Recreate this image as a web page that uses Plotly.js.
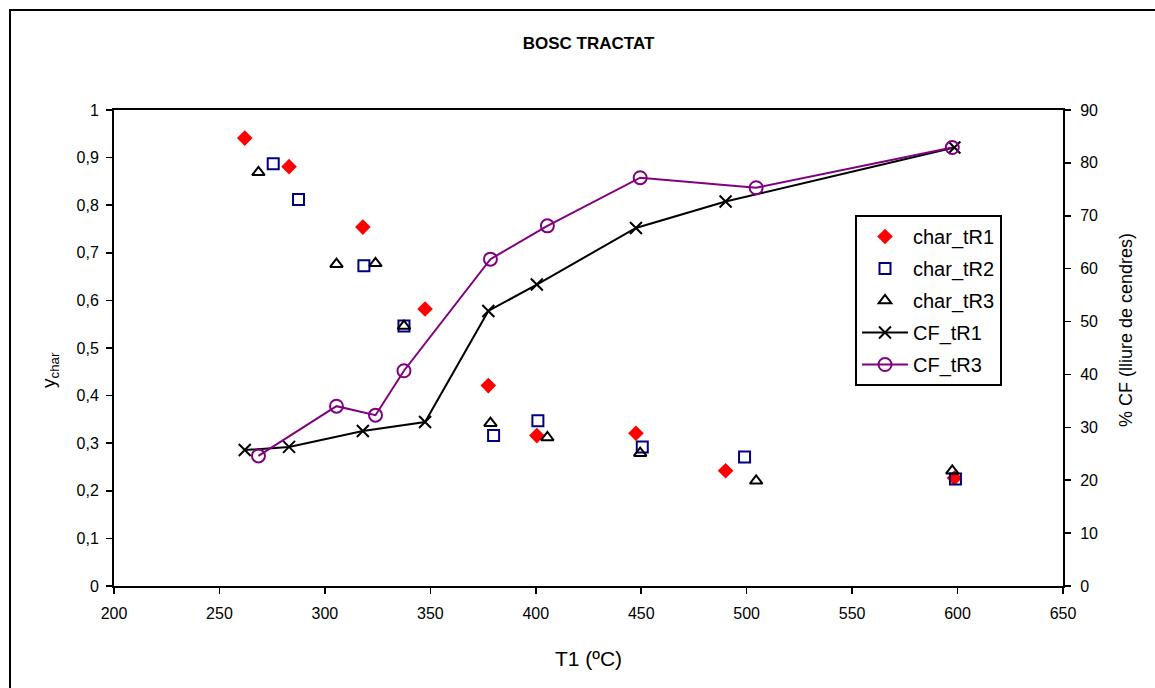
<!DOCTYPE html>
<html>
<head>
<meta charset="utf-8">
<script src="https://cdn.plot.ly/plotly-3.0.1.min.js"></script>
<style>
  html, body { margin: 0; padding: 0; background: #ffffff; }
  #chart { width: 1155px; height: 688px; }
</style>
</head>
<body>
<div id="chart"></div>
<script>
// Temperatures T1 (ºC) for each run
const tempR1 = [262, 283, 318, 347.5, 377.5, 400.5, 447.5, 490, 598.5];
const tempR2 = [275.5, 287.5, 318.5, 337.5, 380, 401, 450.5, 499, 599];
const tempR3 = [268.5, 305.5, 324, 337.5, 378.5, 405.5, 449.5, 504.5, 597.5];

// Char yield (left axis)
const charR1 = [0.941, 0.881, 0.754, 0.582, 0.421, 0.316, 0.321, 0.242, 0.227];
const charR2 = [0.887, 0.812, 0.673, 0.546, 0.316, 0.347, 0.292, 0.271, 0.225];
const charR3 = [0.869, 0.676, 0.678, 0.546, 0.342, 0.312, 0.279, 0.221, 0.242];

// Fixed carbon, % ash-free (right axis)
const cfR1 = [25.7, 26.3, 29.3, 31.0, 52.0, 57.0, 67.7, 72.7, 82.9];
const cfR3 = [24.6, 34.0, 32.3, 40.7, 61.8, 68.1, 77.2, 75.3, 82.9];

const seriesNames = ['char_tR1', 'char_tR2', 'char_tR3', 'CF_tR1', 'CF_tR3'];

const FONT = 'Liberation Sans, Arial, sans-serif';

// plot area in pixels
const PL = 114, PR = 1063, PT = 110, PB = 586;
const PW = PR - PL, PH = PB - PT;
const px = v => (v - PL) / PW;
const py = v => (PB - v) / PH;

const traces = [
  {
    x: tempR1, y: charR1, name: seriesNames[0], legendgroup: 'g1', type: 'scatter', mode: 'markers',
    marker: { symbol: 'diamond', size: 12, color: '#ff0000', line: { width: 0 } }
  },
  {
    x: tempR2, y: charR2, name: seriesNames[1], legendgroup: 'g2', type: 'scatter', mode: 'markers',
    marker: { symbol: 'square-open', size: 11, color: '#000080', line: { width: 2, color: '#000080' } }
  },
  {
    x: tempR3, y: charR3, name: seriesNames[2], legendgroup: 'g3', type: 'scatter', mode: 'markers',
    marker: { symbol: 'triangle-up-open', size: 11, color: '#000000', line: { width: 2, color: '#000000' } }
  },
  {
    x: tempR1, y: cfR1, name: seriesNames[3], legendgroup: 'g4', type: 'scatter', mode: 'lines+markers', yaxis: 'y2',
    line: { color: '#000000', width: 2 },
    marker: { symbol: 'x-thin-open', size: 12, color: '#000000', line: { width: 2, color: '#000000' } }
  },
  {
    x: tempR3, y: cfR3, name: seriesNames[4], legendgroup: 'g5', type: 'scatter', mode: 'lines+markers', yaxis: 'y2',
    line: { color: '#800080', width: 2 },
    marker: { symbol: 'circle-open', size: 13, color: '#800080', line: { width: 2, color: '#800080' } }
  }
];

const axisCommon = {
  showgrid: false, zeroline: false,
  showline: true, linecolor: '#000000', linewidth: 2,
  ticks: 'outside', ticklen: 6, tickwidth: 1.5, tickcolor: '#000000',
  tickfont: { family: FONT, size: 16 }
};

const layout = {
  width: 1155,
  height: 688,
  paper_bgcolor: '#ffffff',
  plot_bgcolor: '#ffffff',
  separators: ',.',
  font: { family: FONT, color: '#000000', size: 16 },
  margin: { l: PL, r: 1155 - PR, t: PT, b: 688 - PB, pad: 0 },
  showlegend: true,
  title: {
    text: '<b>BOSC TRACTAT</b>',
    font: { family: FONT, size: 17, color: '#000000' },
    x: 0.5, xref: 'paper', xanchor: 'center',
    y: 1 - 43 / 688, yanchor: 'middle'
  },
  xaxis: Object.assign({}, axisCommon, {
    range: [200, 650],
    dtick: 50, tick0: 200,
    mirror: true,
    ticklabelstandoff: 6,
    title: { text: 'T1 (ºC)', font: { family: FONT, size: 21 }, standoff: 30 }
  }),
  yaxis: Object.assign({}, axisCommon, {
    range: [0, 1],
    dtick: 0.1, tick0: 0,
    ticklabelstandoff: 4
  }),
  yaxis2: Object.assign({}, axisCommon, {
    range: [0, 90],
    dtick: 10, tick0: 0,
    overlaying: 'y', side: 'right',
    ticklabelstandoff: 6
  }),
  legend: {
    x: px(855), xanchor: 'left',
    y: py(215), yanchor: 'top',
    bgcolor: '#ffffff',
    bordercolor: '#000000', borderwidth: 2,
    font: { family: FONT, size: 20 },
    tracegroupgap: 3,
    itemwidth: 46
  },
  annotations: [
    {
      text: 'y<sub>char</sub>', textangle: -90,
      xref: 'paper', yref: 'paper', x: px(50), y: py(370),
      xanchor: 'center', yanchor: 'middle', showarrow: false,
      font: { family: FONT, size: 19, color: '#000000' }
    },
    {
      text: '% CF (lliure de cendres)', textangle: -90,
      xref: 'paper', yref: 'paper', x: px(1126), y: py(330),
      xanchor: 'center', yanchor: 'middle', showarrow: false,
      font: { family: FONT, size: 18, color: '#000000' }
    }
  ],
  shapes: [
    {
      type: 'rect', xref: 'paper', yref: 'paper',
      x0: px(10), x1: px(1170),
      y0: py(700), y1: py(10),
      line: { color: '#000000', width: 2 },
      fillcolor: 'rgba(0,0,0,0)',
      layer: 'below'
    }
  ]
};

Plotly.newPlot('chart', traces, layout, { displayModeBar: false, staticPlot: true });
</script>
</body>
</html>
